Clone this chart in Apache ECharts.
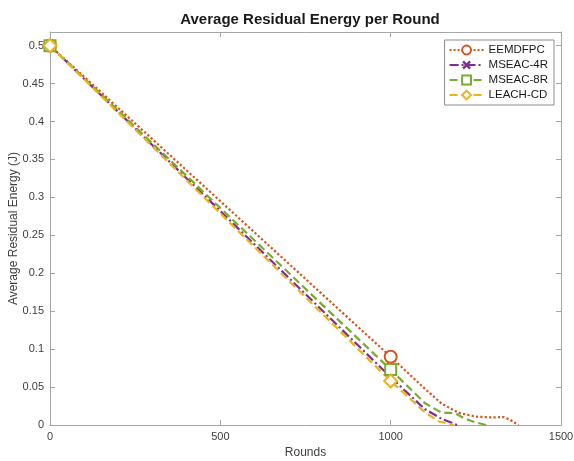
<!DOCTYPE html>
<html>
<head>
<meta charset="utf-8">
<script src="https://cdn.jsdelivr.net/npm/echarts@6/dist/echarts.min.js"></script>
<style>
  html, body { margin: 0; padding: 0; background: #fff; }
  #chart { width: 574px; height: 461px; }
</style>
</head>
<body>
<div id="chart"></div>
<script>
// values
const seriesNames = ['EEMDFPC', 'MSEAC-4R', 'MSEAC-8R', 'LEACH-CD']
const roundsEEMDFPC = [0, 500, 1000, 1100, 1150, 1200, 1250, 1300, 1330, 1350, 1375]
const energyEEMDFPC = [0.5, 0.295, 0.09, 0.048, 0.028, 0.016, 0.011, 0.010, 0.0105, 0.007, 0]
const roundsMSEAC4R = [0, 500, 1000, 1100, 1150, 1195]
const energyMSEAC4R = [0.5, 0.282, 0.063, 0.021, 0.008, 0]
const roundsMSEAC8R = [0, 500, 1000, 1100, 1150, 1175, 1195, 1215, 1245, 1280]
const energyMSEAC8R = [0.5, 0.286, 0.073, 0.029, 0.016, 0.016, 0.014, 0.009, 0.004, 0]
const roundsLEACHCD = [0, 500, 1000, 1100, 1140, 1185]
const energyLEACHCD = [0.5, 0.279, 0.058, 0.017, 0.005, 0]
const markerRounds = [0, 1000]
const xTicks = [0, 500, 1000, 1500]
const yTicks = [0, 0.05, 0.1, 0.15, 0.2, 0.25, 0.3, 0.35, 0.4, 0.45, 0.5]

// markers only at 0 and 1000 rounds, like the matlab plot
const points = (xs, ys) => xs.map((x, i) => markerRounds.includes(x)
    ? { value: [x, ys[i]] }
    : { value: [x, ys[i]], symbol: 'none' })
const crossPath = 'path://M0,2L2,0L5,3L8,0L10,2L7,5L10,8L8,10L5,7L2,10L0,8L3,5Z'
const shapes = ['circle', crossPath, 'rect', 'diamond']

const axisGray = '#a6a6a6'
const labelGray = '#404040'

const chart = echarts.init(document.getElementById('chart'))

function lineSeries(name, data, color, dash, shape, size, filled) {
    return {
        name,
        type: 'line',
        data,
        color,
        symbol: shape,
        symbolSize: size,
        showAllSymbol: true,
        lineStyle: { color, width: 2.2, type: dash },
        itemStyle: filled
            ? { color, borderColor: color, borderWidth: 0 }
            : { color: '#fff', borderColor: color, borderWidth: 2 },
        emphasis: { disabled: true },
        z: 3
    }
}

const option = {
    animation: false,
    backgroundColor: '#fff',
    title: {
        text: 'Average Residual Energy per Round',
        left: 305,
        textAlign: 'center',
        top: 7,
        textStyle: { fontFamily: 'Liberation Sans', fontSize: 15, fontWeight: 'bold', color: '#1a1a1a' }
    },
    grid: { left: 50, right: 13, top: 32, bottom: 36, containLabel: false, outerBoundsMode: 'none' },
    legend: {
        orient: 'vertical',
        right: 20,
        top: 40,
        itemWidth: 34,
        itemHeight: 11,
        itemGap: 3,
        padding: [4, 6, 4, 4],
        borderColor: '#8c8c8c',
        borderWidth: 1,
        backgroundColor: '#fff',
        textStyle: { fontFamily: 'Liberation Sans', fontSize: 11.5, color: '#1a1a1a' },
        data: seriesNames
    },
    xAxis: [
        {
            type: 'value', min: 0, max: 1500, interval: 500,
            name: 'Rounds', nameLocation: 'middle', nameGap: 22,
            nameTextStyle: { fontFamily: 'Liberation Sans', fontSize: 12, color: labelGray },
            axisLine: { onZero: false, lineStyle: { color: axisGray } },
            axisTick: { inside: true, length: 5, lineStyle: { color: axisGray } },
            axisLabel: { fontFamily: 'Liberation Sans', fontSize: 11, color: labelGray, margin: 6,
                formatter: v => xTicks.includes(v) ? String(v) : '' },
            splitLine: { show: false }
        },
        {
            type: 'value', position: 'top', min: 0, max: 1500, interval: 500,
            axisLine: { show: true, onZero: false, lineStyle: { color: axisGray } },
            axisTick: { inside: true, length: 5, lineStyle: { color: axisGray } },
            axisLabel: { show: false },
            splitLine: { show: false }
        }
    ],
    yAxis: [
        {
            type: 'value', min: 0, max: 0.518, interval: 0.05,
            name: 'Average Residual Energy (J)', nameLocation: 'middle', nameGap: 30,
            nameMoveOverlap: false,
            nameTextStyle: { fontFamily: 'Liberation Sans', fontSize: 12, color: labelGray },
            axisLine: { show: true, onZero: false, lineStyle: { color: axisGray } },
            axisTick: { inside: true, length: 5, lineStyle: { color: axisGray } },
            axisLabel: { fontFamily: 'Liberation Sans', fontSize: 11, color: labelGray, margin: 6,
                showMaxLabel: false,
                formatter: v => {
                    const t = yTicks.find(y => Math.abs(y - v) < 1e-6)
                    return t === undefined ? '' : String(t)
                } },
            splitLine: { show: false }
        },
        {
            type: 'value', position: 'right', min: 0, max: 0.518, interval: 0.05,
            axisLine: { show: true, onZero: false, lineStyle: { color: axisGray } },
            axisTick: { inside: true, length: 5, lineStyle: { color: axisGray } },
            axisLabel: { show: false },
            splitLine: { show: false }
        }
    ],
    series: [
        lineSeries('EEMDFPC', points(roundsEEMDFPC, energyEEMDFPC), '#D95319', 'dotted', shapes[0], 12, false),
        lineSeries('MSEAC-4R', points(roundsMSEAC4R, energyMSEAC4R), '#7E2F8E', [9, 3, 2, 3], shapes[1], 11, true),
        lineSeries('MSEAC-8R', points(roundsMSEAC8R, energyMSEAC8R), '#77AC30', [8, 4], shapes[2], 11, false),
        lineSeries('LEACH-CD', points(roundsLEACHCD, energyLEACHCD), '#EDB120', [8, 4], shapes[3], 13, false)
    ]
}

chart.setOption(option)
window.addEventListener('resize', () => {
    chart.resize()
})
</script>
</body>
</html>
